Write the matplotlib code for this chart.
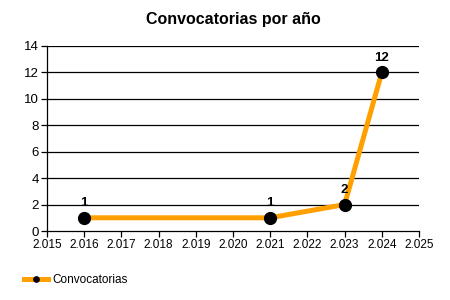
import matplotlib
matplotlib.use("Agg")
import matplotlib.pyplot as plt

plt.rcParams['font.family'] = ['Liberation Sans', 'DejaVu Sans']

years = [2016, 2021, 2023, 2024]
counts = [1, 1, 2, 12]
x_ticks = list(range(2015, 2026))
x_labels = ["2.%03d" % (y - 2000) for y in x_ticks]
y_ticks = list(range(0, 15, 2))

fig = plt.figure(figsize=(4.5, 3), dpi=100)
ax = fig.add_axes([0.1044, 0.23, 0.8267, 0.6167])

for yv in y_ticks[1:]:
    ax.axhline(yv, color='black', lw=0.9, zorder=1)

line, = ax.plot(years, counts, color='#FFA000', lw=3.6, marker='o',
                markersize=8.5, markerfacecolor='black', markeredgecolor='black',
                zorder=3, label='Convocatorias')

for x, y in zip(years, counts):
    ax.annotate(str(y), (x, y), xytext=(0, 6), textcoords='offset points',
                ha='center', va='bottom', fontsize=9.5, fontweight='bold')

ax.set_xlim(2015, 2025)
ax.set_ylim(0, 14)
ax.set_xticks(x_ticks)
ax.set_xticklabels(x_labels)
ax.set_yticks(y_ticks)
ax.tick_params(axis='both', labelsize=8.5, length=4, width=0.9, color='black', pad=2)
ax.tick_params(axis='y', labelsize=9.5)
for s in ['top', 'right']:
    ax.spines[s].set_visible(False)
for s in ['left', 'bottom']:
    ax.spines[s].set_linewidth(0.9)

ax.set_title('Convocatorias por año', fontsize=11.5, fontweight='bold', pad=16)

fig.legend(handles=[line], loc='lower left', bbox_to_anchor=(0.03, 0.01),
           frameon=False, fontsize=8.5, handlelength=2.0, handletextpad=0.4,
           markerscale=0.45)

fig.savefig('out.png', dpi=100)
